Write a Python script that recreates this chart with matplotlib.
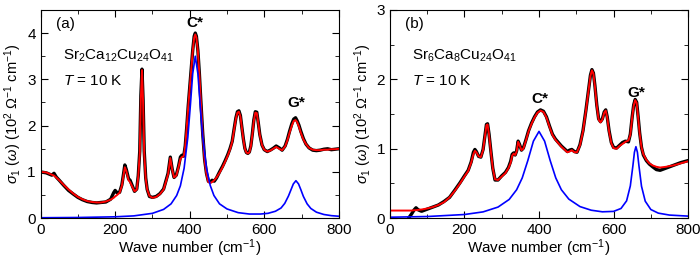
import numpy as np
import matplotlib
matplotlib.use("Agg")
import matplotlib.pyplot as plt
from matplotlib.ticker import MultipleLocator

plt.rcParams['font.family'] = ['Liberation Sans', 'DejaVu Sans']
plt.rcParams['mathtext.fontset'] = 'custom'
plt.rcParams['mathtext.rm'] = 'Liberation Sans'
plt.rcParams['mathtext.it'] = 'Liberation Sans:italic'
plt.rcParams['mathtext.bf'] = 'Liberation Sans:bold'
plt.rcParams['font.size'] = 11

# ---- panel (a): Sr2Ca12Cu24O41 ----
xa = [0, 15, 30, 36, 42, 50, 62, 75, 88, 100, 112, 125, 138, 150, 162, 175, 188, 196, 200, 205,
      212, 218, 222, 226, 230, 236, 240, 246, 252, 258, 262, 266, 269, 272, 275, 278, 282, 286, 292, 300,
      310, 320, 330, 336, 342, 348, 353, 358, 364, 370, 375, 379, 384, 388, 392, 396, 400, 404, 408, 412,
      415, 418, 422, 426, 430, 435, 440, 445, 450, 455, 460, 466, 472, 480, 488, 495, 502, 508, 514, 519,
      524, 528, 532, 536, 540, 544, 548, 552, 556, 560, 564, 568, 572, 576, 580, 584, 588, 594, 600, 608,
      616, 624, 632, 640, 648, 656, 662, 668, 674, 679, 684, 688, 693, 698, 705, 712, 720, 730, 740, 750,
      760, 770, 780, 790, 800]
fit_a = [1.00, 0.99, 0.94, 0.92, 0.88, 0.82, 0.72, 0.62, 0.53, 0.46, 0.41, 0.37, 0.35, 0.34, 0.34, 0.36, 0.40, 0.44, 0.47, 0.50,
         0.55, 0.70, 0.90, 1.10, 1.02, 0.82, 0.78, 0.68, 0.58, 0.62, 0.90, 1.40, 2.60, 3.20, 2.50, 1.40, 0.85, 0.62, 0.48, 0.44,
         0.46, 0.52, 0.62, 0.78, 0.95, 1.30, 1.05, 0.88, 0.92, 1.10, 1.28, 1.32, 1.34, 1.55, 1.95, 2.40, 2.80, 3.20, 3.60, 3.90,
         3.97, 3.90, 3.60, 3.10, 2.50, 1.80, 1.25, 0.95, 0.78, 0.76, 0.78, 0.82, 0.88, 0.98, 1.10, 1.22, 1.35, 1.48, 1.65, 1.90,
         2.15, 2.28, 2.30, 2.20, 1.95, 1.70, 1.50, 1.42, 1.40, 1.42, 1.55, 1.80, 2.10, 2.28, 2.27, 2.05, 1.80, 1.58, 1.48, 1.44,
         1.46, 1.50, 1.54, 1.50, 1.47, 1.55, 1.68, 1.85, 2.00, 2.10, 2.12, 2.08, 1.98, 1.85, 1.70, 1.60, 1.52, 1.48, 1.47, 1.47,
         1.48, 1.48, 1.49, 1.49, 1.50]
data_a = [1.00, 0.98, 0.93, 0.97, 0.89, 0.82, 0.71, 0.60, 0.52, 0.45, 0.40, 0.36, 0.34, 0.33, 0.34, 0.35, 0.41, 0.55, 0.60, 0.55,
          0.56, 0.72, 0.93, 1.15, 1.05, 0.85, 0.82, 0.70, 0.58, 0.63, 0.92, 1.45, 2.65, 3.22, 2.55, 1.45, 0.87, 0.62, 0.47, 0.45,
          0.47, 0.53, 0.63, 0.80, 0.97, 1.32, 1.06, 0.88, 0.93, 1.12, 1.32, 1.36, 1.34, 1.56, 1.96, 2.42, 2.82, 3.22, 3.62, 3.93,
          4.00, 3.93, 3.62, 3.12, 2.52, 1.82, 1.27, 0.97, 0.80, 0.78, 0.82, 0.80, 0.87, 1.00, 1.12, 1.24, 1.37, 1.50, 1.66, 1.92,
          2.17, 2.30, 2.32, 2.22, 1.96, 1.71, 1.51, 1.42, 1.40, 1.43, 1.56, 1.82, 2.12, 2.30, 2.29, 2.06, 1.81, 1.58, 1.48, 1.44,
          1.47, 1.51, 1.56, 1.52, 1.47, 1.56, 1.70, 1.88, 2.04, 2.14, 2.17, 2.11, 2.01, 1.88, 1.72, 1.60, 1.52, 1.47, 1.46, 1.47,
          1.49, 1.50, 1.48, 1.49, 1.50]
xa_mode = [0, 100, 200, 250, 300, 330, 350, 365, 375, 385, 395, 402, 408, 415, 422, 428, 435, 445, 455, 465,
           480, 500, 530, 560, 590, 610, 630, 645, 655, 665, 672, 678, 685, 692, 698, 705, 715, 725, 740, 760,
           780, 800]
mode_a = [0.01, 0.015, 0.03, 0.05, 0.105, 0.19, 0.31, 0.49, 0.70, 1.08, 1.75, 2.46, 3.12, 3.50, 3.12, 2.46, 1.75, 1.085, 0.71, 0.49,
          0.31, 0.20, 0.12, 0.09, 0.09, 0.105, 0.15, 0.22, 0.32, 0.48, 0.62, 0.74, 0.81, 0.74, 0.62, 0.47, 0.31, 0.21, 0.13, 0.08,
          0.055, 0.042]

# ---- panel (b): Sr6Ca8Cu24O41 ----
xb = [0, 25, 50, 58, 65, 70, 76, 85, 100, 115, 130, 145, 160, 175, 188, 200, 210, 218, 224, 228,
      232, 238, 244, 250, 255, 259, 262, 266, 271, 276, 282, 290, 300, 310, 318, 324, 328, 332, 336, 340,
      344, 348, 353, 358, 365, 372, 380, 388, 396, 404, 412, 420, 428, 436, 444, 452, 460, 468, 476, 482,
      488, 495, 502, 510, 518, 526, 532, 538, 542, 546, 550, 555, 560, 565, 570, 575, 579, 583, 588, 594,
      600, 608, 616, 624, 632, 640, 645, 650, 654, 658, 662, 666, 670, 675, 680, 688, 696, 705, 715, 725,
      740, 760, 780, 800]
fit_b = [0.11, 0.11, 0.11, 0.11, 0.115, 0.115, 0.12, 0.125, 0.14, 0.16, 0.19, 0.23, 0.30, 0.40, 0.50, 0.60, 0.68, 0.80, 0.92, 0.97,
         0.95, 0.89, 0.88, 0.98, 1.18, 1.34, 1.35, 1.20, 0.95, 0.72, 0.56, 0.55, 0.60, 0.65, 0.72, 0.80, 0.90, 0.93, 0.91, 0.96,
         1.10, 1.05, 0.98, 1.00, 1.12, 1.25, 1.36, 1.45, 1.52, 1.55, 1.53, 1.45, 1.32, 1.20, 1.13, 1.08, 1.03, 0.99, 0.95, 0.96,
         0.98, 0.95, 0.95, 1.05, 1.25, 1.55, 1.80, 2.05, 2.13, 2.08, 1.90, 1.62, 1.42, 1.38, 1.42, 1.52, 1.55, 1.45, 1.25, 1.08,
         1.01, 1.00, 1.04, 1.07, 1.10, 1.12, 1.20, 1.45, 1.62, 1.70, 1.66, 1.45, 1.22, 1.02, 0.92, 0.84, 0.79, 0.76, 0.74, 0.73,
         0.74, 0.76, 0.79, 0.82]
data_b = [np.nan, np.nan, 0.0, 0.06, 0.12, 0.15, 0.12, 0.10, 0.13, 0.16, 0.19, 0.24, 0.30, 0.41, 0.51, 0.61, 0.69, 0.81, 0.95, 0.99,
          0.96, 0.89, 0.88, 0.99, 1.19, 1.35, 1.36, 1.21, 0.96, 0.72, 0.55, 0.55, 0.61, 0.66, 0.73, 0.82, 0.92, 0.94, 0.91, 0.97,
          1.11, 1.06, 0.98, 1.01, 1.13, 1.26, 1.37, 1.46, 1.53, 1.56, 1.54, 1.46, 1.33, 1.21, 1.14, 1.09, 1.04, 1.00, 0.96, 0.98,
          0.99, 0.96, 0.95, 1.06, 1.26, 1.56, 1.81, 2.06, 2.14, 2.09, 1.91, 1.63, 1.43, 1.39, 1.43, 1.53, 1.56, 1.46, 1.26, 1.09,
          1.02, 1.01, 1.05, 1.09, 1.11, 1.10, 1.21, 1.46, 1.63, 1.71, 1.67, 1.46, 1.23, 1.02, 0.91, 0.83, 0.78, 0.74, 0.70, 0.69,
          0.72, 0.76, 0.80, 0.83]
xb_mode = [0, 100, 200, 250, 290, 320, 340, 355, 370, 385, 400, 415, 430, 445, 460, 480, 510, 540, 570, 600,
           620, 635, 645, 652, 656, 660, 664, 668, 675, 685, 700, 720, 750, 800]
mode_b = [0.014, 0.024, 0.053, 0.091, 0.16, 0.27, 0.41, 0.58, 0.83, 1.11, 1.25, 1.11, 0.83, 0.58, 0.41, 0.275, 0.167, 0.115, 0.092, 0.098,
          0.14, 0.25, 0.465, 0.76, 0.95, 1.03, 0.95, 0.76, 0.46, 0.245, 0.125, 0.073, 0.045, 0.03]

ylabel = r'$\sigma_1$ ($\omega$) (10$^2$ $\Omega^{-1}$ cm$^{-1}$)'

fig = plt.figure(figsize=(7.0, 2.61), dpi=100)
ax1 = fig.add_axes([0.058, 0.164, 0.426, 0.798])
ax2 = fig.add_axes([0.557, 0.164, 0.426, 0.798])

panels = [
    (ax1, xa, data_a, fit_a, xa_mode, mode_a, 4.5, '(a)', r'Sr$_2$Ca$_{12}$Cu$_{24}$O$_{41}$',
     (415, 4.22), (685, 2.48)),
    (ax2, xb, data_b, fit_b, xb_mode, mode_b, 3.0, '(b)', r'Sr$_6$Ca$_8$Cu$_{24}$O$_{41}$',
     (403, 1.71), (660, 1.80)),
]

for ax, x, dat, fit, xm, mode, ytop, tag, comp, cpos, gpos in panels:
    ax.plot(x, dat, color='black', lw=2.4, solid_capstyle='round')
    ax.plot(x, fit, color='#ff0000', lw=1.4)
    ax.plot(xm, mode, color='#0000ff', lw=1.2)
    ax.set_xlim(0, 800)
    ax.set_ylim(0, ytop)
    ax.xaxis.set_major_locator(MultipleLocator(200))
    ax.xaxis.set_minor_locator(MultipleLocator(100))
    ax.yaxis.set_major_locator(MultipleLocator(1))
    ax.yaxis.set_minor_locator(MultipleLocator(0.5))
    ax.tick_params(which='both', direction='in', top=True, right=True, labelsize=11)
    ax.tick_params(which='major', length=5)
    ax.tick_params(which='minor', length=3)
    ax.set_xlabel('Wave number (cm$^{-1}$)', fontsize=11, labelpad=0)
    ax.set_ylabel(ylabel, fontsize=10.5, labelpad=2)
    ax.text(0.05, 0.93, tag, transform=ax.transAxes, fontsize=11, va='center')
    ax.text(0.075, 0.78, comp, transform=ax.transAxes, fontsize=11, va='center')
    ax.text(0.075, 0.66, r'$\it{T}$ = 10 K', transform=ax.transAxes, fontsize=11, va='center')
    ax.text(cpos[0], cpos[1], 'C*', ha='center', va='center', fontsize=11, fontweight='bold')
    ax.text(gpos[0], gpos[1], 'G*', ha='center', va='center', fontsize=11, fontweight='bold')

fig.savefig('out.png', dpi=100)
